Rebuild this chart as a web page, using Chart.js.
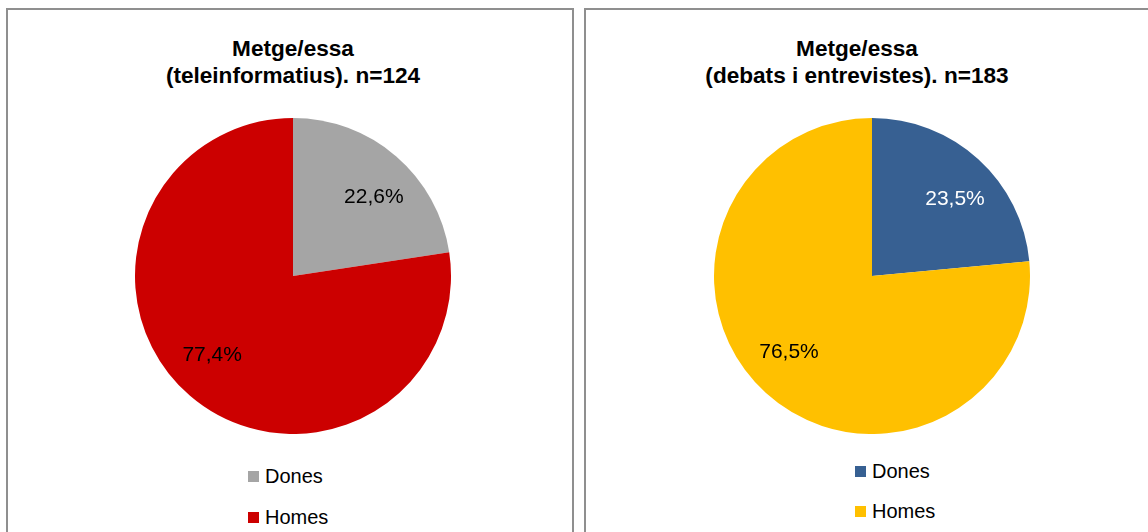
<!DOCTYPE html>
<html>
<head>
<meta charset="utf-8">
<script src="https://cdn.jsdelivr.net/npm/chart.js@4/dist/chart.umd.min.js"></script>
<style>
  html, body { margin: 0; padding: 0; background: #ffffff; }
  body { width: 1148px; height: 532px; overflow: hidden; position: relative; font-family: "Liberation Sans", Arial, sans-serif; }
  .panel { position: absolute; border: 2px solid #8f8f8f; box-sizing: border-box; background: #fff; }
  .title { position: absolute; width: 500px; text-align: center; font-weight: bold; font-size: 22.6px; line-height: 27px; color: #000; }
  .pie { position: absolute; }
  .leg { position: absolute; font-size: 20px; line-height: 24px; color: #000; white-space: nowrap; }
  .leg span.box { display: inline-block; width: 11px; height: 11px; margin-right: 6px; vertical-align: 1px; }
</style>
</head>
<body>
<div class="panel" style="left:6px; top:8px; width:568px; height:540px;"></div>
<div class="panel" style="left:584px; top:8px; width:580px; height:540px;"></div>

<div class="title" id="t1" style="left:43px; top:35px;"></div>
<div class="title" id="t2" style="left:607px; top:35px;"></div>

<div class="pie" style="left:135px; top:118px; width:316px; height:316px;"><canvas id="c1" width="316" height="316"></canvas></div>
<div class="pie" style="left:714px; top:118px; width:316px; height:316px;"><canvas id="c2" width="316" height="316"></canvas></div>

<div id="l1"></div>
<div id="l2"></div>

<script>
// ---- data ----
const categories = ["Dones", "Homes"];
const title1 = ["Metge/essa", "(teleinformatius). n=124"];
const title2 = ["Metge/essa", "(debats i entrevistes). n=183"];
const values1 = [22.6, 77.4];
const values2 = [23.5, 76.5];
const colors1 = ["#A5A5A5", "#CC0000"];
const colors2 = ["#376092", "#FFC000"];
const labelColors1 = ["#000000", "#000000"];
const labelColors2 = ["#FFFFFF", "#000000"];

const FONT = '"Liberation Sans", Arial, sans-serif';

const labelPlugin = {
  id: 'pieLabels',
  afterDatasetsDraw(chart, args, opts) {
    const ctx = chart.ctx;
    const meta = chart.getDatasetMeta(0);
    const ds = chart.data.datasets[0];
    ctx.save();
    ctx.font = '21px ' + FONT;
    ctx.textAlign = 'center';
    ctx.textBaseline = 'middle';
    meta.data.forEach((arc, i) => {
      const p = arc.getProps(['x', 'y', 'startAngle', 'endAngle', 'outerRadius'], true);
      const a = (p.startAngle + p.endAngle) / 2 + opts.angleShift * Math.PI / 180;
      const r = p.outerRadius * opts.radiusFactor;
      const x = p.x + Math.cos(a) * r;
      const y = p.y + Math.sin(a) * r;
      ctx.fillStyle = opts.colors[i];
      ctx.fillText(ds.data[i].toFixed(1).replace('.', ',') + '%', x, y);
    });
    ctx.restore();
  }
};

function makePie(id, values, colors, labelColors) {
  return new Chart(document.getElementById(id), {
    type: 'pie',
    data: {
      labels: categories,
      datasets: [{
        data: values,
        backgroundColor: colors,
        borderWidth: 0,
        hoverOffset: 0,
        offset: 0
      }]
    },
    options: {
      responsive: false,
      animation: false,
      events: [],
      layout: { padding: 0 },
      plugins: {
        legend: { display: false },
        title: { display: false },
        tooltip: { enabled: false },
        pieLabels: { colors: labelColors, angleShift: 5, radiusFactor: 0.715 }
      }
    },
    plugins: [labelPlugin]
  });
}

makePie('c1', values1, colors1, labelColors1);
makePie('c2', values2, colors2, labelColors2);

function setTitle(id, lines) {
  const el = document.getElementById(id);
  lines.forEach((t) => {
    const d = document.createElement('div');
    d.textContent = t;
    el.appendChild(d);
  });
}
setTitle('t1', title1);
setTitle('t2', title2);

function makeLegend(id, colors, left, top, step) {
  const host = document.getElementById(id);
  categories.forEach((c, i) => {
    const d = document.createElement('div');
    d.className = 'leg';
    d.style.left = left + 'px';
    d.style.top = (top + i * step) + 'px';
    const b = document.createElement('span');
    b.className = 'box';
    b.style.background = colors[i];
    d.appendChild(b);
    d.appendChild(document.createTextNode(c));
    host.appendChild(d);
  });
}
makeLegend('l1', colors1, 248, 464, 41);
makeLegend('l2', colors2, 855, 459, 40);
</script>
</body>
</html>
